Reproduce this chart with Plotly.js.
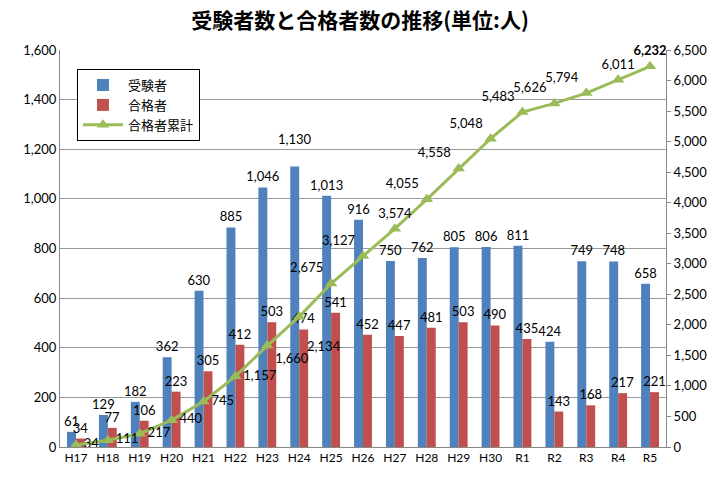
<!DOCTYPE html>
<html>
<head>
<meta charset="utf-8">
<script src="https://cdn.plot.ly/plotly-3.0.1.min.js"></script>
<style>html,body{margin:0;padding:0;background:#fff;}#chart{width:720px;height:490px;}</style>
</head>
<body>
<div id="chart"></div>
<script>
var categories = ["H17","H18","H19","H20","H21","H22","H23","H24","H25","H26","H27","H28","H29","H30","R1","R2","R3","R4","R5"];
var examinees = [61,129,182,362,630,885,1046,1130,1013,916,750,762,805,806,811,424,749,748,658];
var passers = [34,77,106,223,305,412,503,474,541,452,447,481,503,490,435,143,168,217,221];
var cumulative = [34,111,217,440,745,1157,1660,2134,2675,3127,3574,4055,4558,5048,5483,5626,5794,6011,6232];
var leftTicks = [0,200,400,600,800,1000,1200,1400,1600];
var rightTicks = [0,500,1000,1500,2000,2500,3000,3500,4000,4500,5000,5500,6000,6500];
var cumLabelPos = ["middle right","middle right","middle right","middle right","middle right","middle right",
  "bottom right","bottom right","top left","top left","top center","top left","top left","top left",
  "top left","top left","top left","top center","top center"];

function fmt(v){ return v.toLocaleString("en-US"); }
var cumText = cumulative.map(function(v,i){
  if (i === cumulative.length-1) return "<b>"+fmt(v)+"</b>";
  if (i === 7) return "<br>"+fmt(v);
  return fmt(v);
});
var examText = examinees.map(function(v,i){ return i === 7 ? fmt(v)+"<br> " : fmt(v); });

var font = "Lato, 'Noto Sans CJK JP', sans-serif";
var jpFont = "'Noto Sans CJK JP', sans-serif";

var traces = [
  {type:"bar", name:"受験者", x:categories, y:examinees, marker:{color:"#4F81BD"},
   text:examText, textposition:"outside", cliponaxis:false, constraintext:"none",
   textfont:{family:font,size:13,color:"#000"}},
  {type:"bar", name:"合格者", x:categories, y:passers, marker:{color:"#C0504D"},
   text:passers.map(fmt), textposition:"outside", cliponaxis:false, constraintext:"none",
   textfont:{family:font,size:13,color:"#000"}},
  {type:"scatter", name:"合格者累計", x:categories, y:cumulative, yaxis:"y2",
   mode:"lines+markers+text", line:{color:"#9BBB59",width:3},
   marker:{symbol:"triangle-up",size:11,color:"#9BBB59"},
   text:cumText, textposition:cumLabelPos, cliponaxis:false,
   textfont:{family:font,size:13,color:"#000"}}
];

var layout = {
  width:720, height:490,
  margin:{l:60,r:54,t:50,b:43},
  paper_bgcolor:"#fff", plot_bgcolor:"#fff",
  title:{text:"<b>受験者数と合格者数の推移(単位:人)</b>", x:0.5, xanchor:"center", y:0.958, yanchor:"middle",
         font:{family:jpFont,size:21,color:"#000"}},
  barmode:"group", bargap:0.44, bargroupgap:0,
  showlegend:true,
  legend:{x:0.028,y:0.952,xanchor:"left",yanchor:"top",bgcolor:"#fff",bordercolor:"#000",borderwidth:1,
          font:{family:jpFont,size:13,color:"#000"},tracegroupgap:4,itemwidth:40},
  xaxis:{type:"category", range:[-0.5,18.5], autorange:false, showline:true, linecolor:"#888", linewidth:1, ticks:"",
         tickfont:{family:font,size:12,color:"#000"}, showgrid:false},
  yaxis:{range:[0,1600], tickvals:leftTicks, ticktext:leftTicks.map(fmt), showgrid:true, gridcolor:"#999", gridwidth:1,
         showline:true, linecolor:"#888", ticks:"", zeroline:false,
         tickfont:{family:font,size:13,color:"#000"}},
  yaxis2:{overlaying:"y", side:"right", range:[0,6500], tickvals:rightTicks, ticktext:rightTicks.map(fmt),
          showgrid:false, showline:true, linecolor:"#888", ticks:"outside", ticklen:4, tickcolor:"#888",
          zeroline:false, tickfont:{family:font,size:13,color:"#000"}}
};

Plotly.newPlot("chart", traces, layout, {displayModeBar:false, staticPlot:true});
</script>
</body>
</html>
